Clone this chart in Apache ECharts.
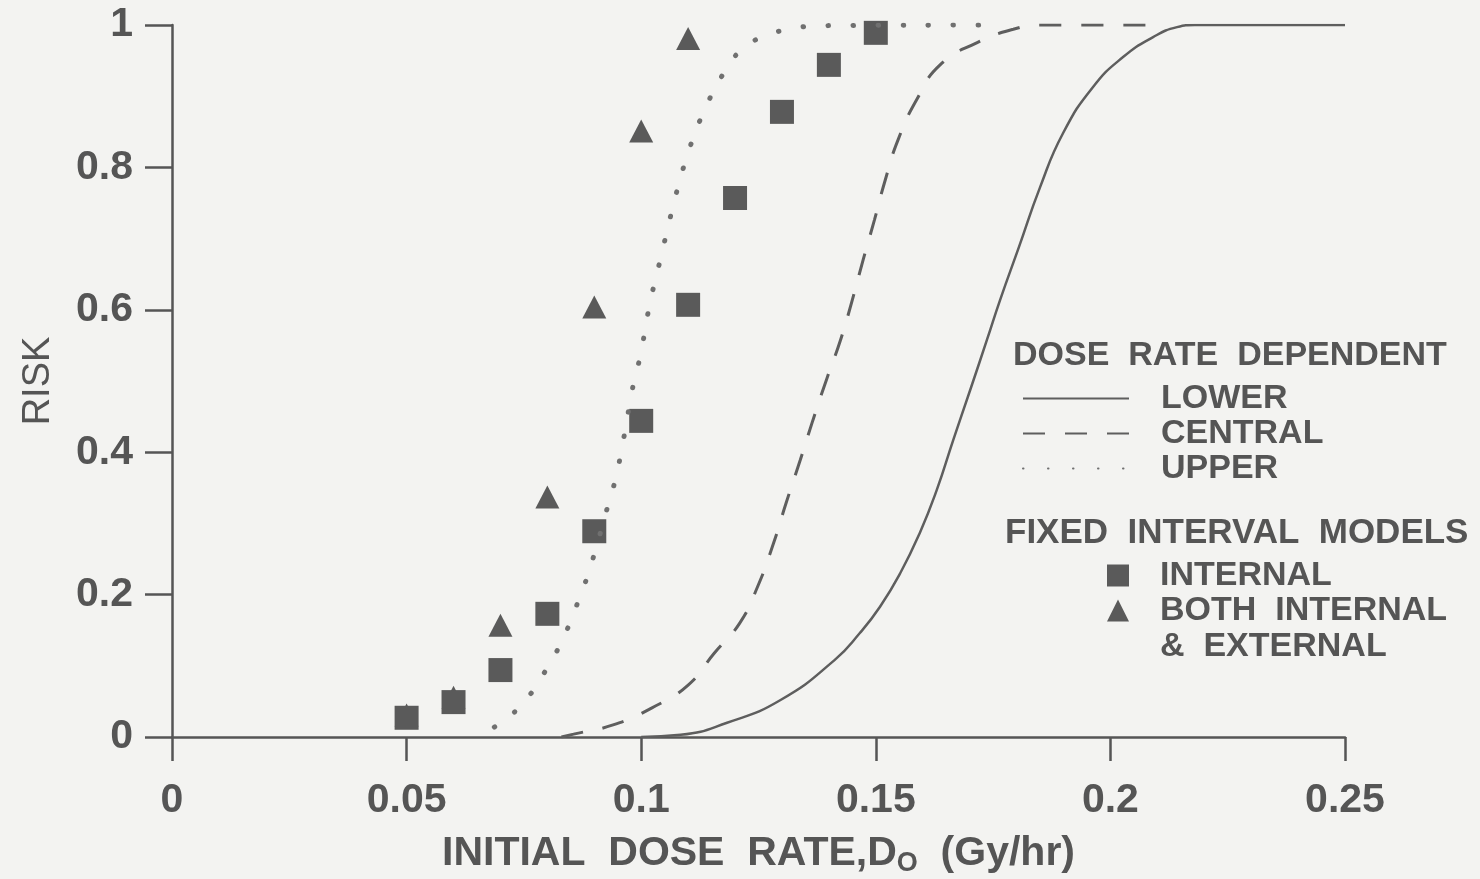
<!DOCTYPE html>
<html>
<head>
<meta charset="utf-8">
<title>Risk vs initial dose rate</title>
<script src="https://cdn.jsdelivr.net/npm/echarts@6.0.0/dist/echarts.min.js"></script>
<style>
  html, body { margin: 0; padding: 0; background: #f3f3f1; }
  #chart { width: 1480px; height: 879px; }
</style>
</head>
<body>
<div id="chart"></div>
<script>
  // fixed interval model points
  var internalDose = [0.05, 0.06, 0.07, 0.08, 0.09, 0.10, 0.11, 0.12, 0.13, 0.14, 0.15];
  var internalRisk = [0.027, 0.049, 0.094, 0.173, 0.289, 0.444, 0.607, 0.757, 0.878, 0.944, 0.989];
  var bothDose = [0.05, 0.06, 0.07, 0.08, 0.09, 0.10, 0.11];
  var bothRisk = [0.031, 0.056, 0.157, 0.337, 0.604, 0.851, 0.981];

  // dose rate dependent curves as [dose, risk]
  var lowerCurve = [
    [0.100, 0], [0.1084, 0.003], [0.1183, 0.020], [0.1297, 0.052], [0.1412, 0.108],
    [0.1466, 0.146], [0.1509, 0.183], [0.1552, 0.230], [0.1594, 0.287], [0.1630, 0.347],
    [0.1665, 0.417], [0.1701, 0.487], [0.1737, 0.558], [0.1765, 0.614], [0.1805, 0.688],
    [0.1850, 0.772], [0.1899, 0.848], [0.1963, 0.913], [0.2027, 0.955], [0.2091, 0.983],
    [0.2142, 0.997], [0.2180, 1], [0.2500, 1]
  ];
  var centralCurve = [
    [0.083, 0], [0.0856, 0.004], [0.0940, 0.017], [0.1023, 0.041], [0.1100, 0.073],
    [0.1156, 0.118], [0.1210, 0.160], [0.1248, 0.211], [0.1282, 0.272], [0.1309, 0.329],
    [0.1339, 0.389], [0.1366, 0.445], [0.1396, 0.504], [0.1425, 0.558], [0.1450, 0.614],
    [0.1473, 0.670], [0.1497, 0.726], [0.1520, 0.782], [0.1547, 0.838], [0.1587, 0.895],
    [0.1637, 0.944], [0.1715, 0.975], [0.1793, 0.994], [0.1850, 1], [0.2090, 1]
  ];
  var upperCurve = [
    [0.0687, 0.014], [0.0730, 0.035], [0.0766, 0.062], [0.0796, 0.093], [0.0823, 0.124],
    [0.0846, 0.157], [0.0866, 0.191], [0.0884, 0.223], [0.0900, 0.257], [0.0930, 0.327],
    [0.0945, 0.362], [0.0960, 0.410], [0.0985, 0.501], [0.0998, 0.535], [0.1018, 0.607],
    [0.1042, 0.674], [0.1067, 0.743], [0.1096, 0.812], [0.1134, 0.879], [0.1185, 0.942],
    [0.1220, 0.968], [0.1268, 0.986], [0.1320, 0.994], [0.1374, 0.999], [0.1760, 1]
  ];

  var ink = '#555555';
  var font = 'Liberation Sans';

  function pairs(xs, ys) {
    return xs.map(function (x, i) { return [x, ys[i]]; });
  }

  var chart = echarts.init(document.getElementById('chart'));
  chart.setOption({
    backgroundColor: '#f3f3f1',
    animation: false,
    textStyle: { fontFamily: font, color: ink },
    grid: { left: 172, right: 135, top: 25, bottom: 142, containLabel: false, outerBoundsMode: 'none' },
    title: [
      {
        text: 'DOSE  RATE  DEPENDENT',
        left: 1013, top: 339, padding: 0,
        textStyle: { fontFamily: font, fontSize: 34, fontWeight: 'bold', color: ink }
      },
      {
        text: 'FIXED  INTERVAL  MODELS',
        left: 1005, top: 516, padding: 0,
        textStyle: { fontFamily: font, fontSize: 35, fontWeight: 'bold', color: ink }
      }
    ],
    legend: [
      {
        data: ['LOWER', 'CENTRAL', 'UPPER'],
        orient: 'vertical',
        left: 1022, top: 381, padding: 0,
        itemWidth: 106, itemHeight: 14, itemGap: 0,
        selectedMode: false,
        itemStyle: { opacity: 0 },
        textStyle: { fontFamily: font, fontSize: 34, fontWeight: 'bold', color: ink, lineHeight: 35, padding: [0, 0, 0, 27] }
      },
      {
        data: ['INTERNAL', 'BOTH INTERNAL & EXTERNAL'],
        orient: 'vertical',
        left: 1107, top: 558, padding: 0,
        itemWidth: 22, itemHeight: 22, itemGap: 0,
        selectedMode: false,
        formatter: function (name) {
          return name === 'INTERNAL' ? 'INTERNAL' : 'BOTH  INTERNAL';
        },
        textStyle: { fontFamily: font, fontSize: 34, fontWeight: 'bold', color: ink, lineHeight: 35, padding: [0, 0, 0, 26] }
      }
    ],
    graphic: [
      {
        type: 'text', left: 1160, top: 630,
        style: { text: '&  EXTERNAL', font: 'bold 34px "Liberation Sans"', fill: ink }
      }
    ],
    xAxis: {
      type: 'value',
      min: 0, max: 0.25, interval: 0.05,
      name: '{t|INITIAL  DOSE  RATE,D}{s|O}{t|  (Gy/hr)}',
      nameLocation: 'middle',
      nameGap: 93,
      nameTextStyle: {
        rich: {
          t: { fontFamily: font, fontSize: 41, fontWeight: 'bold', color: ink },
          s: { fontFamily: font, fontSize: 27, fontWeight: 'bold', color: ink, padding: [20, 0, 0, 0] }
        }
      },
      splitLine: { show: false },
      axisLine: { onZero: false, lineStyle: { color: ink, width: 2.5 } },
      axisTick: { inside: false, length: 24, lineStyle: { color: ink, width: 2.5 } },
      axisLabel: { margin: 43, fontFamily: font, fontSize: 41, fontWeight: 'bold', color: ink }
    },
    yAxis: {
      type: 'value',
      min: 0, max: 1, interval: 0.2,
      name: 'RISK',
      nameLocation: 'middle',
      nameGap: 114,
      nameRotate: 90,
      nameTextStyle: { fontFamily: font, fontSize: 38, color: ink },
      splitLine: { show: false },
      axisLine: { show: true, lineStyle: { color: ink, width: 2.5 } },
      axisTick: { show: true, inside: false, length: 27, lineStyle: { color: ink, width: 2.5 } },
      axisLabel: { margin: 39, fontFamily: font, fontSize: 41, fontWeight: 'bold', color: ink }
    },
    series: [
      {
        name: 'LOWER', type: 'line', data: lowerCurve,
        smooth: 0.5, symbol: 'none', color: '#5e5e5e',
        lineStyle: { color: '#5e5e5e', width: 2.5, type: 'solid' }
      },
      {
        name: 'CENTRAL', type: 'line', data: centralCurve,
        smooth: 0.5, symbol: 'none', color: '#5e5e5e',
        lineStyle: { color: '#5e5e5e', width: 3, type: [22, 20] }
      },
      {
        name: 'UPPER', type: 'line', data: upperCurve,
        smooth: 0.5, symbol: 'none', color: '#6a6a6a',
        lineStyle: { color: '#707070', width: 5, type: [0.5, 24.5], cap: 'round' }
      },
      {
        name: 'BOTH INTERNAL & EXTERNAL', type: 'scatter', data: pairs(bothDose, bothRisk),
        symbol: 'triangle', symbolSize: [24, 23],
        itemStyle: { color: '#5a5a5a', opacity: 1 }
      },
      {
        name: 'INTERNAL', type: 'scatter', data: pairs(internalDose, internalRisk),
        symbol: 'rect', symbolSize: 24,
        itemStyle: { color: '#5a5a5a', opacity: 1 }
      }
    ]
  });
</script>
</body>
</html>
